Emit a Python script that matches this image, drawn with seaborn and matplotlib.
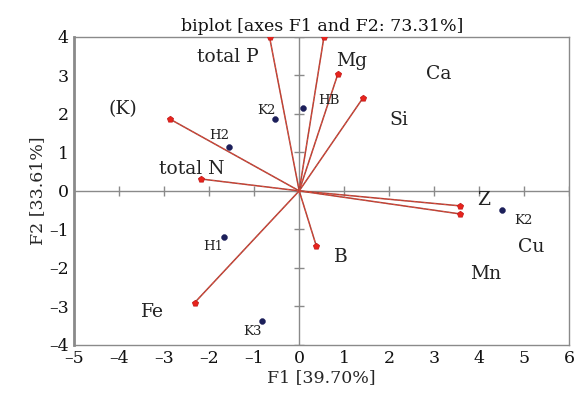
import numpy as np
import pandas as pd
import matplotlib.pyplot as plt
import seaborn as sns

# Variable vectors (loadings scaled)
var_x = [-0.66, 0.55, 0.86, 1.42, -2.88, -2.19, -2.32, 0.38, 3.58, 3.58]
var_y = [4.00, 4.00, 3.04, 2.42, 1.87, 0.31, -2.90, -1.43, -0.39, -0.60]

# Variable names and where they are written
var_names = ['total P', 'Mg', 'Ca', 'Si', '(K)', 'total N', 'Fe', 'B', 'Z', 'Cu', 'Mn']
name_x = [-1.59, 1.17, 3.10, 2.21, -3.92, -2.39, -3.25, 0.93, 4.09, 5.15, 4.14]
name_y = [3.48, 3.38, 3.04, 1.84, 2.13, 0.57, -3.14, -1.71, -0.23, -1.45, -2.16]

# Observations
obs_names = ['K2', 'HB', 'H2', 'H1', 'K3', 'K2']
obs_x = [-0.53, 0.09, -1.55, -1.66, -0.82, 4.51]
obs_y = [1.87, 2.16, 1.14, -1.19, -3.38, -0.49]
obs_lx = [-0.73, 0.66, -1.77, -1.92, -1.04, 4.98]
obs_ly = [2.08, 2.36, 1.43, -1.45, -3.64, -0.78]

x_ticks = list(range(-5, 7))
y_ticks = list(range(-4, 5))

sns.set_style('white')
plt.rcParams['font.family'] = ['DejaVu Serif']

fig = plt.figure(figsize=(5.75, 4.01), dpi=100)
ax = fig.add_axes([0.129, 0.14, 0.861, 0.768])

# centre lines with their little tick marks
ax.axhline(0, color='#8a8a8a', lw=1, zorder=1)
ax.axvline(0, color='#8a8a8a', lw=1, zorder=1)
ax.plot(x_ticks, [0] * len(x_ticks), ls='none', marker='|', ms=7, color='#8a8a8a', zorder=1)
ax.plot([0] * len(y_ticks), y_ticks, ls='none', marker='_', ms=7, color='#8a8a8a', zorder=1)

# vectors from origin
for vx, vy in zip(var_x, var_y):
    ax.plot([0, vx], [0, vy], color='#a8453a', lw=1.1, zorder=2)
    ax.plot([0, vx], [0, vy], color='#f04a3a', lw=0.6, ls=(0, (3, 3)), zorder=2)

vec = pd.DataFrame({'x': var_x, 'y': var_y})
sns.scatterplot(data=vec, x='x', y='y', ax=ax, color='#e8231c', s=22, marker='p',
                edgecolor='#c01818', linewidth=0.5, zorder=3)

obs = pd.DataFrame({'x': obs_x, 'y': obs_y})
sns.scatterplot(data=obs, x='x', y='y', ax=ax, color='#1c1f5a', s=18,
                edgecolor='#1c1f5a', zorder=3)

for n, x, y in zip(var_names, name_x, name_y):
    ax.text(x, y, n, fontsize=13.5, ha='center', va='center', color='#222222')
for n, x, y in zip(obs_names, obs_lx, obs_ly):
    ax.text(x, y, n, fontsize=9.5, ha='center', va='center', color='#222222')

ax.set_xlim(-5, 6)
ax.set_ylim(-4, 4)
ax.set_xticks(x_ticks)
ax.set_yticks(y_ticks)
ax.set_xticklabels([str(t).replace('-', '\u2013') for t in x_ticks])
ax.set_yticklabels([str(t).replace('-', '\u2013') for t in y_ticks])
ax.tick_params(length=0, labelsize=12.5, pad=4, colors='#111111')
for s in ax.spines.values():
    s.set_color('#8a8a8a')
    s.set_linewidth(1)
ax.spines['left'].set_linewidth(2)

ax.set_xlabel('F1 [39.70%]', fontsize=12.5, labelpad=1)
ax.set_ylabel('F2 [33.61%]', fontsize=12.5, labelpad=2)
ax.set_title('biplot [axes F1 and F2: 73.31%]', fontsize=12.5, pad=4, color='#111111')

fig.savefig('out.png', dpi=100)
